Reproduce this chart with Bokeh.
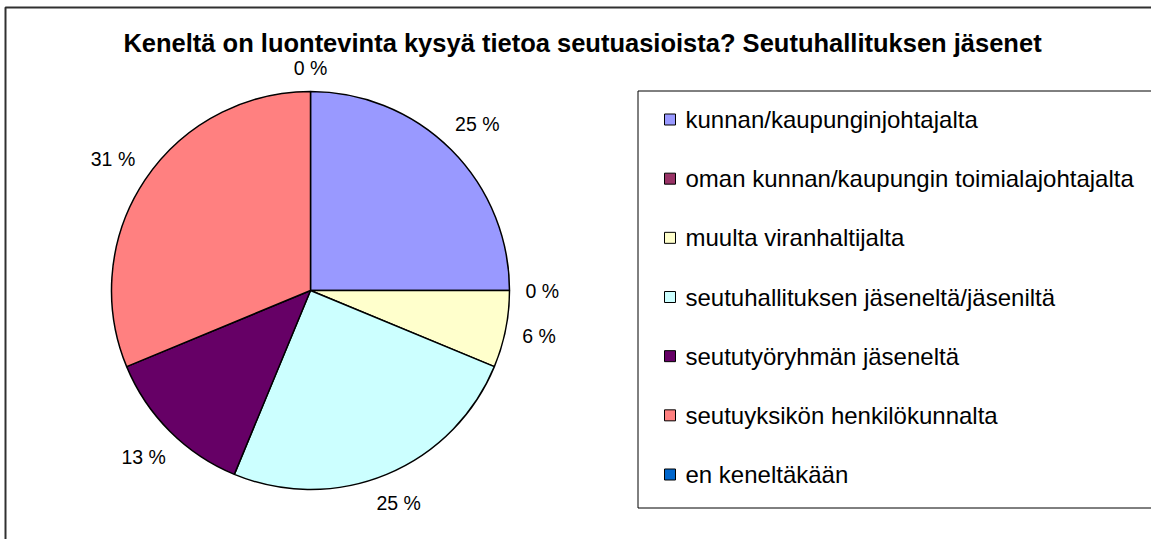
import math
from bokeh.plotting import figure
from bokeh.models import Range1d, ColumnDataSource
from bokeh.core.properties import value
from bokeh.embed import file_html
from bokeh.resources import INLINE

# ---- data ----
title = "Keneltä on luontevinta kysyä tietoa seutuasioista? Seutuhallituksen jäsenet"
categories = [
    "kunnan/kaupunginjohtajalta",
    "oman kunnan/kaupungin toimialajohtajalta",
    "muulta viranhaltijalta",
    "seutuhallituksen jäseneltä/jäseniltä",
    "seututyöryhmän jäseneltä",
    "seutuyksikön henkilökunnalta",
    "en keneltäkään",
]
shares = [25.0, 0.0, 6.25, 25.0, 12.5, 31.25, 0.0]
colors = ["#9999FF", "#993366", "#FFFFCC", "#CCFFFF", "#660066", "#FF8080", "#0066CC"]

# ---- layout (screen pixel helpers) ----
W, H = 1151, 539
def dx(px):
    return px
def dy(py):
    return H - py

FONT = "Liberation Sans"
cx, cy, r = dx(310), dy(290), 199

p = figure(width=W, height=H, output_backend="svg", toolbar_location=None,
           x_range=Range1d(0, W), y_range=Range1d(0, H), min_border=0,
           outline_line_color=None, background_fill_color="white",
           border_fill_color="white")
p.axis.visible = False
p.grid.visible = False

# outer chart frame (only top/left visible in crop)
p.quad(left=[dx(5)], right=[W + 200], bottom=[-200], top=[dy(7)],
       fill_color=None, line_color="#303030", line_width=2)

# ---- pie ----
total = sum(shares)
starts, ends, mids = [], [], []
cum = 0.0
for v in shares:
    a0 = cum / total
    cum += v
    a1 = cum / total
    starts.append(math.pi / 2 - 2 * math.pi * a0)
    ends.append(math.pi / 2 - 2 * math.pi * a1)
    mids.append((a0 + a1) / 2)

wsrc = ColumnDataSource(dict(
    start=[s for s, v in zip(starts, shares) if v > 0],
    end=[e for e, v in zip(ends, shares) if v > 0],
    color=[c for c, v in zip(colors, shares) if v > 0],
))
p.wedge(x=cx, y=cy, radius=r, start_angle="start", end_angle="end",
        direction="clock", fill_color="color", line_color="black",
        line_width=1.5, source=wsrc)

# ---- percentage labels ----
fs = 19.5
gap = 16
lx, ly, lt = [], [], []
for v, m in zip(shares, mids):
    txt = "%d %%" % int(math.floor(v + 0.5))
    ndig = len(txt) - 2
    w = fs * (0.556 * ndig + 0.278 + 0.889)
    h = fs * 0.75
    th = 2 * math.pi * m
    ux, uy = math.sin(th), math.cos(th)
    d = r + gap + abs(ux) * w / 2 + abs(uy) * h / 2
    lx.append(cx + d * ux)
    ly.append(cy + d * uy)
    lt.append(txt)
p.text(x=lx, y=ly, text=lt, text_font=value(FONT), text_font_size="%.1fpx" % fs,
       text_align="center", text_baseline="middle", text_color="black")

# ---- title ----
p.text(x=[dx(582)], y=[dy(42)], text=[title], text_font=value(FONT),
       text_font_size="25.5px", text_font_style="bold", text_align="center",
       text_baseline="middle", text_color="black")

# ---- legend ----
p.quad(left=[dx(637.5)], right=[W + 200], bottom=[dy(507.5)], top=[dy(90.5)],
       fill_color="white", line_color="black", line_width=1)
n = len(categories)
y0, y1 = 119, 474
ys = [dy(y0 + i * (y1 - y0) / (n - 1)) for i in range(n)]
p.rect(x=[dx(669.5)] * n, y=ys, width=11, height=11, fill_color=colors,
       line_color="black", line_width=1)
p.text(x=[dx(685)] * n, y=ys, text=categories, text_font=value(FONT),
       text_font_size="24px", text_align="left", text_baseline="middle",
       text_color="black")

open("out.html", "w").write(file_html(p, INLINE))
